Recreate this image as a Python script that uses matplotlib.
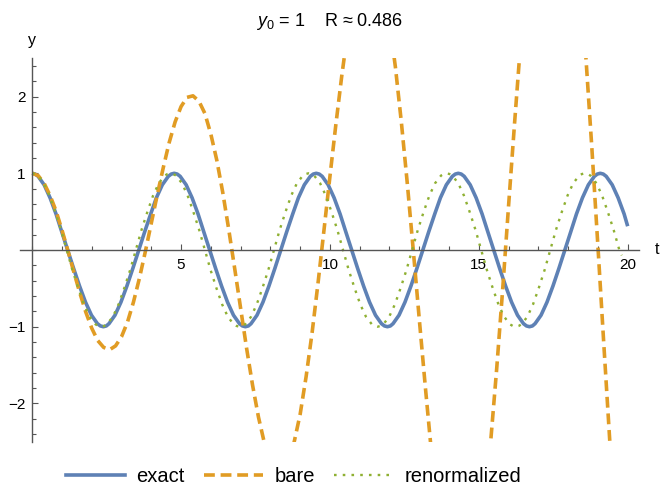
import matplotlib
matplotlib.use("Agg")
import matplotlib.pyplot as plt
from matplotlib.ticker import MultipleLocator, FixedLocator
from matplotlib.lines import Line2D

plt.rcParams['font.family'] = ['Liberation Sans', 'DejaVu Sans']
plt.rcParams['mathtext.fontset'] = 'custom'
plt.rcParams['mathtext.rm'] = 'Liberation Sans'
plt.rcParams['mathtext.it'] = 'Liberation Sans:italic'

# exact solution (one row per half period)
exact_t = [0.00, 0.10, 0.20, 0.40, 0.60, 0.80, 0.99, 1.19, 1.39, 1.59, 1.79, 1.99, 2.19, 2.29,
           2.39, 2.49, 2.58, 2.78, 2.98, 3.18, 3.38, 3.58, 3.78, 3.98, 4.17, 4.37, 4.57, 4.67,
           4.77, 4.87, 4.97, 5.17, 5.37, 5.57, 5.76, 5.96, 6.16, 6.36, 6.56, 6.76, 6.96, 7.06,
           7.16, 7.26, 7.35, 7.55, 7.75, 7.95, 8.15, 8.35, 8.55, 8.75, 8.94, 9.14, 9.34, 9.44,
           9.54, 9.64, 9.74, 9.94, 10.14, 10.34, 10.53, 10.73, 10.93, 11.13, 11.33, 11.53, 11.73, 11.83,
           11.93, 12.03, 12.12, 12.32, 12.52, 12.72, 12.92, 13.12, 13.32, 13.52, 13.71, 13.91, 14.11, 14.21,
           14.31, 14.41, 14.51, 14.71, 14.91, 15.11, 15.30, 15.50, 15.70, 15.90, 16.10, 16.30, 16.50, 16.60,
           16.70, 16.80, 16.89, 17.09, 17.29, 17.49, 17.69, 17.89, 18.09, 18.28, 18.48, 18.68, 18.88, 18.98,
           19.08, 19.18, 19.28, 19.48, 19.68, 19.88, 20.00]
exact_y = [1.00, 0.99, 0.96, 0.85, 0.68, 0.47, 0.24, 0.00, -0.24, -0.47, -0.68, -0.85, -0.96, -0.99,
           -1.00, -0.99, -0.96, -0.85, -0.68, -0.47, -0.24, 0.00, 0.24, 0.47, 0.68, 0.85, 0.96, 0.99,
           1.00, 0.99, 0.96, 0.85, 0.68, 0.47, 0.24, 0.00, -0.24, -0.47, -0.68, -0.85, -0.96, -0.99,
           -1.00, -0.99, -0.96, -0.85, -0.68, -0.47, -0.24, 0.00, 0.24, 0.47, 0.68, 0.85, 0.96, 0.99,
           1.00, 0.99, 0.96, 0.85, 0.68, 0.47, 0.24, 0.00, -0.24, -0.47, -0.68, -0.85, -0.96, -0.99,
           -1.00, -0.99, -0.96, -0.85, -0.68, -0.47, -0.24, 0.00, 0.24, 0.47, 0.68, 0.85, 0.96, 0.99,
           1.00, 0.99, 0.96, 0.85, 0.68, 0.47, 0.24, 0.00, -0.24, -0.47, -0.68, -0.85, -0.96, -0.99,
           -1.00, -0.99, -0.96, -0.85, -0.68, -0.47, -0.24, 0.00, 0.24, 0.47, 0.68, 0.85, 0.96, 0.99,
           1.00, 0.99, 0.96, 0.85, 0.68, 0.47, 0.31]

# bare perturbation series (orange), runs off the plot range
bare_t = [0.0, 0.2, 0.4, 0.6, 0.8, 1.0, 1.2, 1.4, 1.6, 1.8, 2.0, 2.2, 2.4, 2.6, 2.8,
          3.0, 3.2, 3.4, 3.6, 3.8, 4.0, 4.2, 4.4, 4.6, 4.8, 5.0, 5.2, 5.4, 5.6, 5.8,
          6.0, 6.2, 6.4, 6.6, 6.8, 7.0, 7.2, 7.4, 7.6, 7.8, 8.0,
          8.6, 8.8, 9.0, 9.2, 9.4, 9.6, 9.8, 10.0, 10.2, 10.4, 10.6,
          12.0, 12.2, 12.4, 12.6, 12.8, 13.0, 13.2, 13.4, 13.6,
          15.2, 15.4, 15.6, 15.8, 16.0, 16.2, 16.4,
          18.4, 18.6, 18.8, 19.0, 19.2, 19.4, 19.6]
bare_y = [1.00, 0.97, 0.87, 0.71, 0.51, 0.26, -0.01, -0.29, -0.56, -0.81, -1.02, -1.18, -1.27, -1.30, -1.25,
          -1.13, -0.94, -0.68, -0.37, -0.02, 0.35, 0.72, 1.07, 1.40, 1.67, 1.87, 1.99, 2.01, 1.94, 1.78,
          1.51, 1.17, 0.75, 0.27, -0.24, -0.76, -1.28, -1.76, -2.18, -2.52, -2.76,
          -2.76, -2.50, -2.14, -1.65, -1.08, -0.43, 0.26, 0.96, 1.64, 2.28, 2.85,
          2.97, 2.38, 1.66, 0.86, -0.01, -0.90, -1.77, -2.60, -3.35,
          -3.32, -2.49, -1.55, -0.52, 0.58, 1.65, 2.68,
          3.54, 2.49, 1.31, 0.05, -1.24, -2.50, -3.68]

# renormalized solution (green dots), one row per half period
renorm_t = [0.00, 0.10, 0.19, 0.39, 0.58, 0.77, 0.97, 1.16, 1.35, 1.55, 1.74, 1.93, 2.13, 2.22,
            2.32, 2.42, 2.51, 2.71, 2.90, 3.09, 3.29, 3.48, 3.67, 3.87, 4.06, 4.25, 4.45, 4.54,
            4.64, 4.74, 4.83, 5.03, 5.22, 5.41, 5.61, 5.80, 5.99, 6.19, 6.38, 6.57, 6.77, 6.86,
            6.96, 7.06, 7.15, 7.35, 7.54, 7.73, 7.93, 8.12, 8.31, 8.51, 8.70, 8.89, 9.09, 9.18,
            9.28, 9.38, 9.47, 9.67, 9.86, 10.05, 10.25, 10.44, 10.63, 10.83, 11.02, 11.21, 11.41, 11.50,
            11.60, 11.70, 11.79, 11.99, 12.18, 12.37, 12.57, 12.76, 12.95, 13.15, 13.34, 13.53, 13.73, 13.82,
            13.92, 14.02, 14.11, 14.31, 14.50, 14.69, 14.89, 15.08, 15.27, 15.47, 15.66, 15.85, 16.05, 16.14,
            16.24, 16.34, 16.43, 16.63, 16.82, 17.01, 17.21, 17.40, 17.59, 17.79, 17.98, 18.17, 18.37, 18.46,
            18.56, 18.66, 18.75, 18.95, 19.14, 19.33, 19.53, 19.72, 19.80]
renorm_y = [1.00, 0.99, 0.97, 0.87, 0.71, 0.50, 0.26, 0.00, -0.26, -0.50, -0.71, -0.87, -0.97, -0.99,
            -1.00, -0.99, -0.97, -0.87, -0.71, -0.50, -0.26, 0.00, 0.26, 0.50, 0.71, 0.87, 0.97, 0.99,
            1.00, 0.99, 0.97, 0.87, 0.71, 0.50, 0.26, 0.00, -0.26, -0.50, -0.71, -0.87, -0.97, -0.99,
            -1.00, -0.99, -0.97, -0.87, -0.71, -0.50, -0.26, 0.00, 0.26, 0.50, 0.71, 0.87, 0.97, 0.99,
            1.00, 0.99, 0.97, 0.87, 0.71, 0.50, 0.26, 0.00, -0.26, -0.50, -0.71, -0.87, -0.97, -0.99,
            -1.00, -0.99, -0.97, -0.87, -0.71, -0.50, -0.26, 0.00, 0.26, 0.50, 0.71, 0.87, 0.97, 0.99,
            1.00, 0.99, 0.97, 0.87, 0.71, 0.50, 0.26, 0.00, -0.26, -0.50, -0.71, -0.87, -0.97, -0.99,
            -1.00, -0.99, -0.97, -0.87, -0.71, -0.50, -0.26, 0.00, 0.26, 0.50, 0.71, 0.87, 0.97, 0.99,
            1.00, 0.99, 0.97, 0.87, 0.71, 0.50, 0.26, 0.00, -0.07]

labels = ['exact', 'bare', 'renormalized']
blue = '#5E81B5'
orange = '#E19C24'
green = '#8FB032'
axis_gray = '#555555'

fig = plt.figure(figsize=(6.62, 4.87), dpi=100)
ax = fig.add_axes([20/662, 1 - 441.75/487, 619/662, 383.5/487])

ax.plot(exact_t, exact_y, color=blue, lw=2.6, solid_capstyle='butt', solid_joinstyle='round')
ax.plot(bare_t, bare_y, color=orange, lw=2.6, dashes=(3, 1.6), dash_joinstyle='round')
ax.plot(renorm_t, renorm_y, color=green, lw=1.7, dashes=(1.1, 2.6))

ax.set_xlim(-0.41, 20.38)
ax.set_ylim(-2.5, 2.5)

# Mathematica style axes through the origin
for side in ['top', 'right']:
    ax.spines[side].set_visible(False)
for side in ['left', 'bottom']:
    ax.spines[side].set_position(('data', 0))
    ax.spines[side].set_color(axis_gray)
    ax.spines[side].set_linewidth(1.0)

ax.xaxis.set_major_locator(FixedLocator([5, 10, 15, 20]))
ax.xaxis.set_minor_locator(MultipleLocator(1))
ax.yaxis.set_major_locator(FixedLocator([-2, -1, 1, 2]))
ax.yaxis.set_minor_locator(MultipleLocator(0.2))
ax.tick_params(which='both', direction='in', color=axis_gray, width=0.8, labelsize=11)
ax.tick_params(which='major', length=4.5)
ax.tick_params(which='minor', length=2.6)
ax.tick_params(axis='x', pad=6)
ax.tick_params(axis='y', pad=5)

fig.text(31.7/662, 1 - 40/487, 'y', ha='center', va='center', fontsize=11.5)
fig.text(657/662, 1 - 249/487, 't', ha='center', va='center', fontsize=11.5)
fig.text(329.5/662, 1 - 26/487, r'$y_0$ = 1    R ≈ 0.486', ha='center', va='baseline',
         fontsize=13)

handles = [Line2D([], [], color=blue, lw=2.6),
           Line2D([], [], color=orange, lw=2.6, dashes=(3, 1.6)),
           Line2D([], [], color=green, lw=1.7, dashes=(1.1, 2.6))]
fig.legend(handles, labels, loc='center left', bbox_to_anchor=(66/662, 1 - 477/487),
           ncol=3, frameon=False, borderpad=0, borderaxespad=0, fontsize=14.5,
           handlelength=2.95, handletextpad=0.55, columnspacing=0.95)

fig.savefig('out.png', dpi=100)
